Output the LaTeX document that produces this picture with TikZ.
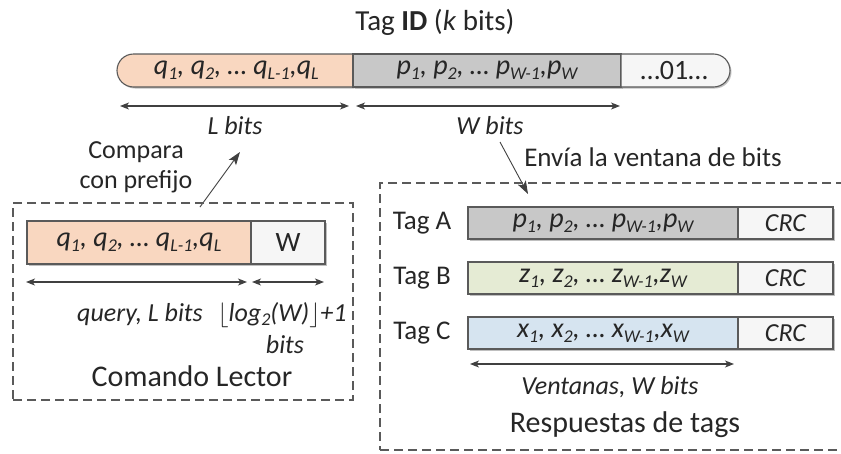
\documentclass[tikz,border=0pt]{standalone}
\usepackage{fontspec}
\setmainfont{Carlito}
\usetikzlibrary{arrows.meta,shapes.misc,shadows}
\definecolor{ink}{HTML}{262626}
\definecolor{edge}{HTML}{5A5A5A}
\definecolor{arrowink}{HTML}{404040}
\definecolor{peach}{HTML}{F9D7C0}
\definecolor{greyfill}{HTML}{C8C8C8}
\definecolor{greenfill}{HTML}{E5EBD4}
\definecolor{bluefill}{HTML}{D6E4F0}
\definecolor{whitefill}{HTML}{F6F6F6}
% lowered subscript in the running font
\newcommand\lsub[1]{\raisebox{-0.35ex}{\fontsize{18}{18}\selectfont #1}}
\newcommand\fsz[1]{\fontsize{#1}{#1}\selectfont}

\begin{document}
\begin{tikzpicture}[x=1pt,y=-1pt,
  seg/.style={draw=edge, line width=1.1pt, inner sep=0pt, outer sep=0pt, text=ink,
    font=\fsz{28}\itshape,
    drop shadow={shadow xshift=1.5pt, shadow yshift=-1.5pt, opacity=0.25, fill=black}},
  dim/.style={draw=arrowink, line width=1.1pt,
    {Stealth[length=9pt,width=7pt,inset=2.5pt]}-{Stealth[length=9pt,width=7pt,inset=2.5pt]}},
  pointer/.style={draw=arrowink, line width=0.9pt, -{Stealth[length=13pt,width=9pt,inset=3pt]}},
  lab/.style={text=ink, inner sep=0pt, font=\fsz{26}},
  ilab/.style={text=ink, inner sep=0pt, font=\fsz{26}\itshape},
  frame/.style={draw=edge, line width=1.2pt, dash pattern=on 9pt off 5pt,
    inner sep=0pt, outer sep=0pt, anchor=north west},
]
\useasboundingbox (0,0) rectangle (841,453);

% ---- tag identifier ----
\node[lab, font=\fsz{29}] (title) at (435,22) {Tag \textbf{ID} (\textit{k} bits)};

\node[seg, fill=peach, rounded rectangle, rounded rectangle right arc=none,
  minimum width=236pt, minimum height=33pt, anchor=west] (idq) at (117,70.5)
  {q\lsub{1}, q\lsub{2}, … q\lsub{L-1},q\lsub{L}};
\node[seg, fill=greyfill, minimum width=268pt, minimum height=33pt, anchor=west] (idp) at (353,70.5)
  {p\lsub{1}, p\lsub{2}, … p\lsub{W-1},p\lsub{W}};
\node[seg, fill=whitefill, rounded rectangle, rounded rectangle left arc=none,
  minimum width=109pt, minimum height=33pt, anchor=west, font=\fsz{28}] (idr) at (621,70.5) {…01…};

\coordinate (la) at (120,106);
\coordinate (lb) at (349,106);
\coordinate (wa) at (356,106);
\coordinate (wb) at (620,106);
\draw[dim] (la) -- (lb);
\draw[dim] (wa) -- (wb);
\node[ilab] (lbits) at (235,126) {L bits};
\node[ilab] (wbits) at (490,126) {W bits};

% ---- annotations with pointers ----
\node[lab, font=\fontsize{26}{30}\selectfont, align=center] (cmp) at (136,167) {Compara\\con prefijo};
\coordinate (cmpfoot) at (200,207);
\coordinate (cmptip) at (240,152);
\draw[pointer] (cmpfoot) -- (cmptip);

\node[lab, font=\fsz{27}] (env) at (653,157) {Envía la ventana de bits};
\coordinate (envfoot) at (500,142);
\coordinate (envtip) at (528,194);
\draw[pointer] (envfoot) -- (envtip);

% ---- reader command ----
\node[frame, minimum width=340pt, minimum height=197pt] (cmdframe) at (13,203) {};
\node[seg, fill=peach, minimum width=224pt, minimum height=43pt, anchor=north west] (qry) at (27,221)
  {q\lsub{1}, q\lsub{2}, … q\lsub{L-1},q\lsub{L}};
\node[seg, fill=whitefill, minimum width=74pt, minimum height=43pt, anchor=north west, font=\fsz{28}] (wbox) at (251,221) {W};

\coordinate (qa) at (26,282);
\coordinate (qb) at (247,282);
\coordinate (ga) at (252,282);
\coordinate (gb) at (324,282);
\draw[dim] (qa) -- (qb);
\draw[dim] (ga) -- (gb);
\node[ilab] (qlab) at (140,315) {query, L bits};
\node[ilab] (loglab) at (282,315) {$\lfloor$log\lsub{2}(W)$\rfloor$+1};
\node[ilab] (logbits) at (285,345) {bits};
\node[lab, font=\fsz{30}] (cmdname) at (192,376) {Comando Lector};

% ---- tag replies ----
\node[frame, minimum width=470pt, minimum height=267pt] (repframe) at (380,183) {};

\node[lab, font=\fsz{27}] (tagA) at (422,223) {Tag A};
\node[seg, fill=greyfill, minimum width=270pt, minimum height=32pt, anchor=north west] (winA) at (468,207)
  {p\lsub{1}, p\lsub{2}, … p\lsub{W-1},p\lsub{W}};
\node[seg, fill=whitefill, minimum width=95pt, minimum height=32pt, anchor=north west, font=\fsz{26}\itshape] (crcA) at (738,207) {CRC};

\node[lab, font=\fsz{27}] (tagB) at (422,278) {Tag B};
\node[seg, fill=greenfill, minimum width=270pt, minimum height=32pt, anchor=north west] (winB) at (468,262)
  {z\lsub{1}, z\lsub{2}, … z\lsub{W-1},z\lsub{W}};
\node[seg, fill=whitefill, minimum width=95pt, minimum height=32pt, anchor=north west, font=\fsz{26}\itshape] (crcB) at (738,262) {CRC};

\node[lab, font=\fsz{27}] (tagC) at (422,333) {Tag C};
\node[seg, fill=bluefill, minimum width=270pt, minimum height=32pt, anchor=north west] (winC) at (468,317)
  {x\lsub{1}, x\lsub{2}, … x\lsub{W-1},x\lsub{W}};
\node[seg, fill=whitefill, minimum width=95pt, minimum height=32pt, anchor=north west, font=\fsz{26}\itshape] (crcC) at (738,317) {CRC};

\coordinate (va) at (470,364);
\coordinate (vb) at (734,364);
\draw[dim] (va) -- (vb);
\node[ilab] (vlab) at (610,387) {Ventanas, W bits};
\node[lab, font=\fsz{30}] (repname) at (625,425) {Respuestas de tags};
\end{tikzpicture}
\end{document}
